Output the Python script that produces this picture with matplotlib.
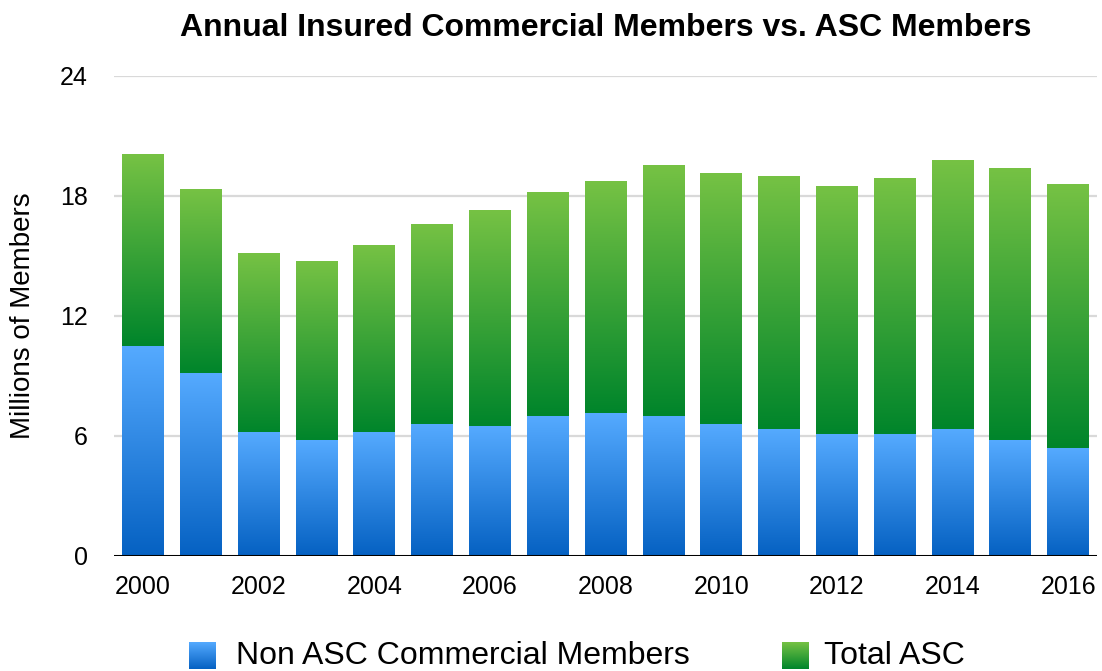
import numpy as np
import matplotlib
matplotlib.use("Agg")
import matplotlib.pyplot as plt
from matplotlib.colors import LinearSegmentedColormap

plt.rcParams['font.family'] = ['Liberation Sans', 'DejaVu Sans']

years = list(range(2000, 2017))
non_asc = [10.49, 9.14, 6.19, 5.79, 6.19, 6.59, 6.49, 6.99, 7.14, 6.99, 6.59, 6.34, 6.09, 6.09, 6.34, 5.79, 5.39]
totals = [20.09, 18.33, 15.13, 14.73, 15.54, 16.59, 17.29, 18.19, 18.74, 19.54, 19.14, 18.99, 18.49, 18.89, 19.79, 19.39, 18.59]
asc = [t - n for t, n in zip(totals, non_asc)]
yticks = [0, 6, 12, 18, 24]
xtick_labels = [str(y) if y % 2 == 0 else "" for y in years]

blue_cmap = LinearSegmentedColormap.from_list("b", ["#0561c2", "#55aaff"])
green_cmap = LinearSegmentedColormap.from_list("g", ["#00852b", "#76c244"])

fig = plt.figure(figsize=(11.02, 6.71), dpi=100)
ax = fig.add_axes([114/1102, 1 - 555.7/671, (1097-114)/1102, (555.7-75.7)/671])

x = np.arange(len(years))
grad = np.linspace(0, 1, 256).reshape(-1, 1)

def gradient_bars(bars, cmap):
    for b in bars:
        b.set_facecolor("none")
        b.set_edgecolor("none")
        x0, y0 = b.get_x(), b.get_y()
        w, h = b.get_width(), b.get_height()
        im = ax.imshow(grad, cmap=cmap, origin="lower", aspect="auto",
                       extent=[x0, x0 + w, y0, y0 + h], zorder=3)
        im.set_clip_path(b)

bw = 0.72
b1 = ax.bar(x, non_asc, width=bw, zorder=3)
b2 = ax.bar(x, asc, bottom=non_asc, width=bw, zorder=3)
gradient_bars(b1, blue_cmap)
gradient_bars(b2, green_cmap)

ax.set_xlim(-0.5, len(years) - 0.5)
ax.set_ylim(0, 24)
ax.set_yticks(yticks)
ax.set_yticklabels([str(t) for t in yticks], fontsize=18)
ax.set_xticks(x)
ax.set_xticklabels(xtick_labels, fontsize=18)
ax.tick_params(length=0, pad=14)
ax.tick_params(axis='y', pad=19)
for t in yticks[1:]:
    ax.axhline(t, color="#d9d9d9", lw=1.6, zorder=1)
ax.axhline(0, color="black", lw=2.2, zorder=5)
for s in ax.spines.values():
    s.set_visible(False)
ax.set_ylabel("Millions of Members", fontsize=20, labelpad=17)

fig.text(605.5/1102, 1 - 28/671, "Annual Insured Commercial Members vs. ASC Members",
         ha="center", va="center", fontsize=23, fontweight="bold")

# legend
def legend_square(x0, cmap):
    lax = fig.add_axes([x0/1102, 1 - 669/671, 27/1102, 27/671])
    lax.imshow(grad, cmap=cmap, origin="lower", aspect="auto")
    lax.set_axis_off()

legend_square(189, blue_cmap)
fig.text(236/1102, 1 - 656/671, "Non ASC Commercial Members", ha="left", va="center", fontsize=23)
legend_square(782, green_cmap)
fig.text(824/1102, 1 - 656/671, "Total ASC", ha="left", va="center", fontsize=23)

fig.savefig("out.png", dpi=100)
